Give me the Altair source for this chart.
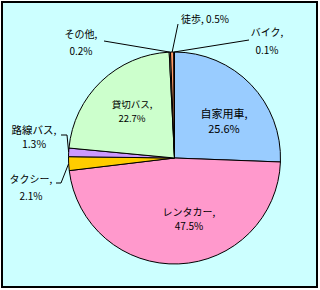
import altair as alt
import pandas as pd
import numpy as np

# ---- data ----
categories = ["自家用車", "レンタカー", "タクシー", "路線バス", "貸切バス", "その他", "徒歩", "バイク"]
values = [25.6, 47.5, 2.1, 1.3, 22.7, 0.2, 0.5, 0.1]

# ---- style / layout ----
colors = ["#99CCFF", "#FF99CC", "#FFCC00", "#CC99FF", "#CCFFCC", "#FFFFCC", "#FF9966", "#3366FF"]
PAD_L, PAD_T, PAD_R, PAD_B = 2, 2, 3, 3
W, H = 320 - PAD_L - PAD_R, 290 - PAD_T - PAD_B
CX, CY, R = 174.5, 158.0, 106.0  # pie centre / radius (canvas px)
FONT = "Noto Sans CJK JP"

# label block centres (canvas px), line gap and font size
label_center = {
    "自家用車": (224, 122), "レンタカー": (189, 220), "タクシー": (31, 188),
    "路線バス": (34, 138), "貸切バス": (132, 112), "その他": (81, 43.5),
    "徒歩": (205, 20), "バイク": (267, 42),
}
label_gap = {"自家用車": 15, "レンタカー": 14, "タクシー": 17, "路線バス": 14.5,
             "貸切バス": 13.5, "その他": 17, "徒歩": 0, "バイク": 18}
label_size = {"自家用車": 11, "レンタカー": 10, "タクシー": 10, "路線バス": 10.5,
              "貸切バス": 9.5, "その他": 10, "徒歩": 10, "バイク": 10}
# leader-line start points (label side), ending at the slice's edge
leader_pts = {
    "その他": [(104, 41)],
    "徒歩": [(178, 24)],
    "バイク": [(249, 40)],
    "路線バス": [(61, 135), (67, 135)],
    "タクシー": [(56, 183), (61, 183)],
}

df = pd.DataFrame({"cat": categories, "value": values, "idx": range(len(categories))})

vals = np.array(values, dtype=float)
end = np.cumsum(vals) / vals.sum() * 360
start = end - vals / vals.sum() * 360
mid = np.deg2rad((start + end) / 2)
anchor = {c: (CX + R * np.sin(m), CY - R * np.cos(m)) for c, m in zip(categories, mid)}

# text rows
rows = []
for c, v in zip(categories, values):
    pct = f"{v:.1f}%"
    lines = [f"{c}, {pct}"] if c == "徒歩" else [f"{c},", pct]
    cx, cy = label_center[c]
    n = len(lines)
    for i, t in enumerate(lines):
        rows.append({"t": t, "x": cx - PAD_L,
                     "y": cy + (i - (n - 1) / 2) * label_gap[c] - PAD_T,
                     "fs": label_size[c]})
tdf = pd.DataFrame(rows)

# leader segments
segs = []
for c, pts in leader_pts.items():
    chain = pts + [anchor[c]]
    for (x1, y1), (x2, y2) in zip(chain[:-1], chain[1:]):
        segs.append({"x": x1 - PAD_L, "y": y1 - PAD_T, "x2": x2 - PAD_L, "y2": y2 - PAD_T})
sdf = pd.DataFrame(segs)

pie = alt.Chart(df).mark_arc(outerRadius=R, stroke="black", strokeWidth=1).encode(
    theta=alt.Theta("value:Q", stack=True),
    color=alt.Color("cat:N", scale=alt.Scale(domain=categories, range=colors), legend=None),
    order=alt.Order("idx:Q", sort="ascending"),
    x=alt.value(CX - PAD_L),
    y=alt.value(CY - PAD_T),
)

leaders = alt.Chart(sdf).mark_rule(color="black", strokeWidth=1).encode(
    x=alt.X("x:Q", scale=None, axis=None),
    y=alt.Y("y:Q", scale=None, axis=None),
    x2="x2:Q",
    y2="y2:Q",
)

labels = alt.Chart(tdf).mark_text(font=FONT, color="black", align="center", baseline="middle").encode(
    x=alt.X("x:Q", scale=None, axis=None),
    y=alt.Y("y:Q", scale=None, axis=None),
    text="t:N",
    size=alt.Size("fs:Q", scale=None, legend=None),
)

chart = alt.layer(pie, leaders, labels).properties(
    width=W, height=H,
    padding={"left": PAD_L, "top": PAD_T, "right": PAD_R, "bottom": PAD_B},
    autosize=alt.AutoSizeParams(type="none"),
    background="white",
).configure_view(stroke="black", strokeWidth=2, fill="#CCFFFF")

chart.save("out.html", embed_options={"renderer": "svg", "actions": False})
